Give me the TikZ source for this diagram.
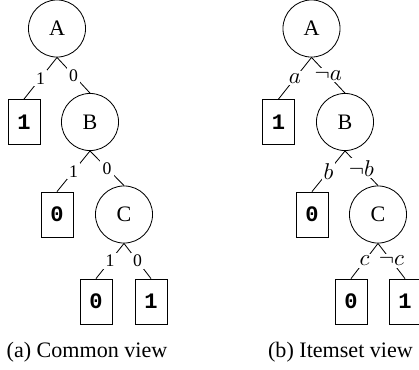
\documentclass[tikz,border=0pt]{standalone}
\usepackage{fontspec}
\setmainfont{Liberation Serif}
\setmonofont{Liberation Mono}
\usepackage{amsmath}
\usepackage{amssymb}

\begin{document}
\begin{tikzpicture}[x=0.48pt,y=-0.48pt,font=\fontsize{10.6}{12}\selectfont,
	test/.style={draw,circle,minimum size=27.4pt,inner sep=0pt},
	leaf/.style={draw,rectangle,minimum width=15.4pt,minimum height=21.6pt,inner sep=0pt,font=\fontsize{10.6}{12}\selectfont\ttfamily\bfseries},
	lbl/.style={midway,fill=white,inner sep=1pt},
	bit/.style={lbl,font=\fontsize{8.5}{10}\selectfont}]
	\useasboundingbox (0,0) rectangle (419,369);

	% common view
	\node[test] (A) at (57,28.5) {A};
	\node[leaf] (A1) at (24,122) {1};
	\node[test] (B) at (90,122) {B};
	\node[leaf] (B1) at (57,214.5) {0};
	\node[test] (C) at (124,214.5) {C};
	\node[leaf] (C1) at (96,301.5) {0};
	\node[leaf] (C0) at (151,301.5) {1};

	\draw (A.south) -- (A1.north) node[bit] {1};
	\draw (A.south) -- (B.north) node[bit] {0};
	\draw (B.south) -- (B1.north) node[bit] {1};
	\draw (B.south) -- (C.north) node[bit] {0};
	\draw (C.south) -- (C1.north) node[bit] {1};
	\draw (C.south) -- (C0.north) node[bit] {0};

	\node (capa) at (87,352) {(a) Common view};

	% itemset view
	\node[test] (iA) at (311.5,28.5) {A};
	\node[leaf] (iA1) at (278.5,122) {1};
	\node[test] (iB) at (345,122) {B};
	\node[leaf] (iB1) at (312,214.5) {0};
	\node[test] (iC) at (378,214.5) {C};
	\node[leaf] (iC1) at (351,301.5) {0};
	\node[leaf] (iC0) at (405,301.5) {1};

	\draw (iA.south) -- (iA1.north) node[lbl] {$a$};
	\draw (iA.south) -- (iB.north) node[lbl] {$\neg a$};
	\draw (iB.south) -- (iB1.north) node[lbl] {$b$};
	\draw (iB.south) -- (iC.north) node[lbl] {$\neg b$};
	\draw (iC.south) -- (iC1.north) node[lbl] {$c$};
	\draw (iC.south) -- (iC0.north) node[lbl] {$\neg c$};

	\node (capb) at (340.5,352) {(b) Itemset view};

\end{tikzpicture}
\end{document}
